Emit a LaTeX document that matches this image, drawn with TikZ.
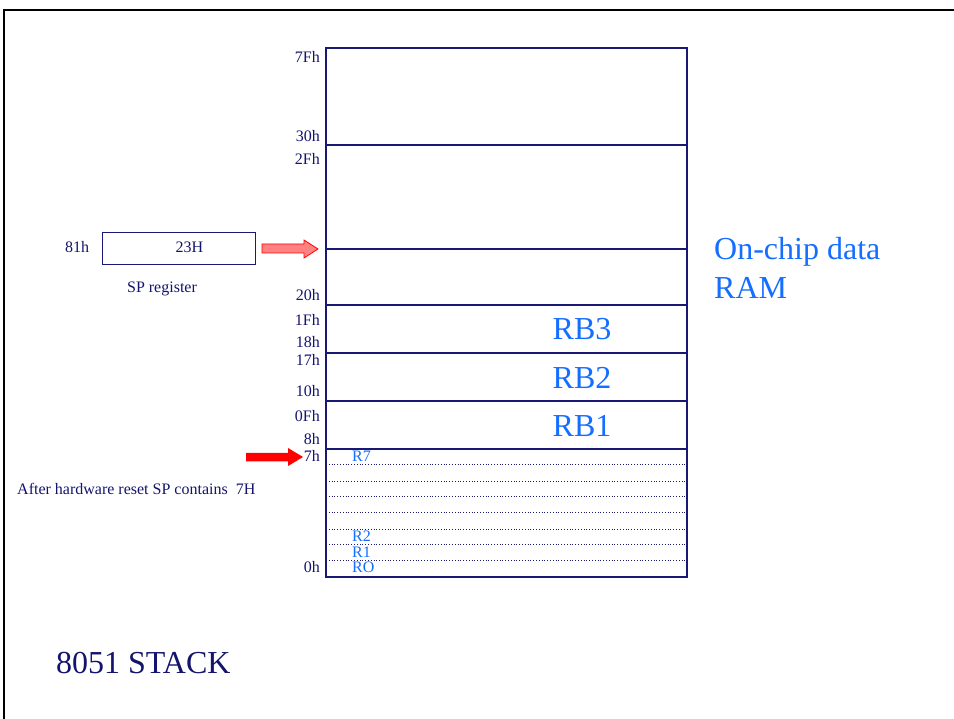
\documentclass[tikz,border=0pt]{standalone}
\usepackage{fontspec}
\setmainfont{Liberation Serif}
\definecolor{navytext}{RGB}{20,20,110}
\definecolor{navyline}{RGB}{25,25,115}
\definecolor{bluetext}{RGB}{20,110,255}
\definecolor{arrowfill}{RGB}{255,130,130}
\begin{document}
\begin{tikzpicture}[x=1pt,y=-1pt,
  lbl/.style={font=\fontsize{16}{19}\selectfont, text=navytext, inner sep=0},
  reglbl/.style={font=\fontsize{16}{19}\selectfont, text=bluetext, inner sep=0, anchor=base west},
  addr/.style={lbl, anchor=base east},
  bank/.style={font=\fontsize{32}{38}\selectfont, text=bluetext, inner sep=0, anchor=base},
  memline/.style={draw=navyline, line width=1.2pt},
  regline/.style={draw=navyline, line width=0.8pt, dotted}]
\useasboundingbox (0,0) rectangle (954,719);
\fill[white] (0,0) rectangle (954,719);
% frame
\draw[black, line width=2.2pt] (4,719) -- (4,10) -- (954,10);
% memory block
\coordinate (mtl) at (326,48);
\coordinate (mbr) at (687,577);
\draw[memline] (mtl) rectangle (mbr);
\foreach \yy/\nm in {145/l30,249/l23,305/l20,353/l18,401/l10,449/l08}{
  \coordinate (\nm a) at (326,\yy);
  \coordinate (\nm b) at (687,\yy);
  \draw[memline] (\nm a) -- (\nm b);
}
\foreach \yy in {464,481,496,512,529,544,560}{
  \draw[regline] (326,\yy) -- (687,\yy);
}
% address labels
\node[addr] (a7F) at (320,63) {7Fh};
\node[addr] (a30) at (320,142) {30h};
\node[addr] (a2F) at (320,165) {2Fh};
\node[addr] (a20) at (320,301) {20h};
\node[addr] (a1F) at (320,326) {1Fh};
\node[addr] (a18) at (320,348) {18h};
\node[addr] (a17) at (320,366) {17h};
\node[addr] (a10) at (320,397) {10h};
\node[addr] (a0F) at (320,421) {0Fh};
\node[addr] (a08) at (320,445) {8h};
\node[addr] (a07) at (320,461) {7h};
\node[addr] (a00) at (320,572) {0h};
% register labels
\node[reglbl] (r7) at (352,461) {R7};
\node[reglbl] (r2) at (352,541) {R2};
\node[reglbl] (r1) at (352,557) {R1};
\node[reglbl] (r0) at (352,572) {RO};
% banks
\node[bank] (rb3) at (582,340) {RB3};
\node[bank] (rb2) at (582,389) {RB2};
\node[bank] (rb1) at (582,437) {RB1};
% on-chip label
\node[font=\fontsize{32}{38}\selectfont, text=bluetext, inner sep=0, anchor=base west] (oc1) at (714,260) {On-chip data};
\node[font=\fontsize{32}{38}\selectfont, text=bluetext, inner sep=0, anchor=base west] (oc2) at (714,299) {RAM};
% SP register
\node[draw=navyline, line width=1.2pt, minimum width=153pt, minimum height=31.5pt, inner sep=0] (sp) at (178.7,248.5) {};
\node[lbl, anchor=base] (spv) at (189.5,253) {23H};
\node[lbl, anchor=base west] (sp81) at (65,253) {81h};
\node[lbl, anchor=base] (spname) at (162,293) {SP register};
% hollow arrow from SP to stack top
\coordinate (ha) at (262,248.5);
\draw[red, fill=arrowfill, line width=0.8pt, line join=miter]
  (262,244) -- (304,244) -- (304,240) -- (318,249) -- (304,258) -- (304,253) -- (262,253) -- cycle;
% red reset arrow
\fill[red] (246,453) -- (288,453) -- (288,448) -- (303,457) -- (288,466) -- (288,461.5) -- (246,461.5) -- cycle;
\node[lbl, anchor=base west] (reset) at (17,494) {After hardware reset SP contains\ \ 7H};
% title
\node[font=\fontsize{32}{38}\selectfont, text=navytext, inner sep=0, anchor=base west] (title) at (56,673) {8051 STACK};
\end{tikzpicture}
\end{document}
